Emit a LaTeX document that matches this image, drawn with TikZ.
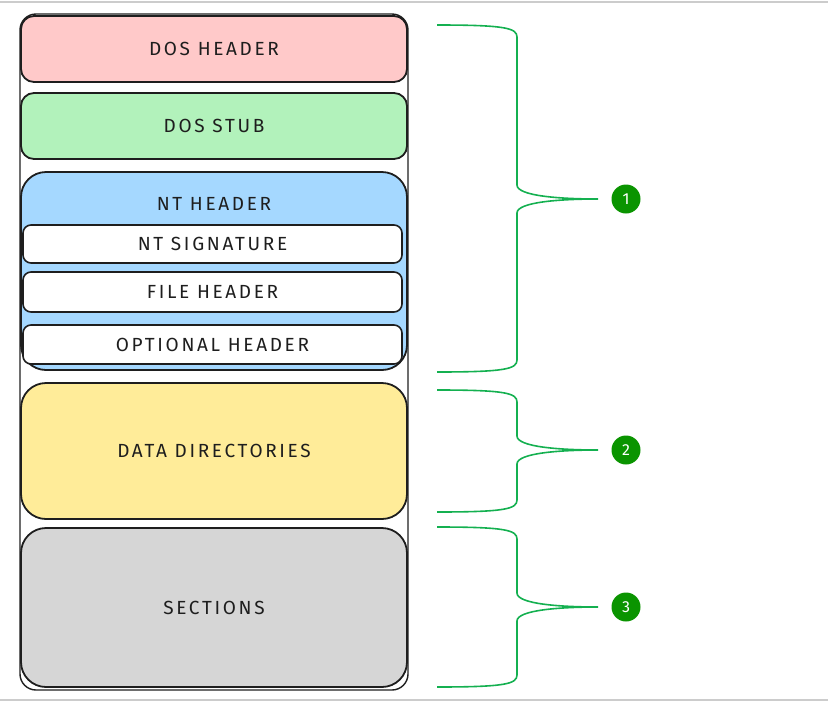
\documentclass[tikz,border=0pt]{standalone}
\usepackage{fontspec}
\setmainfont{Fira Sans}[LetterSpace=14]
\newfontfamily\digitfont{Fira Sans}
\usepackage{xcolor}
\usetikzlibrary{positioning,calc}

\definecolor{dosred}{HTML}{FFC9C9}
\definecolor{stubgreen}{HTML}{B2F2BB}
\definecolor{ntblue}{HTML}{A5D8FF}
\definecolor{diryellow}{HTML}{FFEC99}
\definecolor{secgray}{HTML}{D6D6D6}
\definecolor{inkblack}{HTML}{1E1E1E}
\definecolor{bracegreen}{HTML}{14B050}
\definecolor{badgegreen}{HTML}{0A9400}
\definecolor{framegray}{HTML}{CCCCCC}

\tikzset{
    part/.style={draw=inkblack, line width=1.8pt, rounded corners=13pt, minimum width=386pt, outer sep=0pt, text=inkblack, font=\fontsize{19}{22}\selectfont},
    subpart/.style={draw=inkblack, line width=1.6pt, fill=white, rounded corners=8pt, minimum width=379pt, outer sep=0pt, text=inkblack, font=\fontsize{19}{22}\selectfont},
    brace/.style={draw=bracegreen, line width=1.6pt},
    badge/.style={circle, fill=badgegreen, minimum size=29pt, inner sep=0pt, text=white, font=\digitfont\fontsize{16}{18}\selectfont}
}

\begin{document}
\begin{tikzpicture}[x=1pt, y=-1pt]
        \useasboundingbox (0,0) rectangle (828,702);
        \draw[framegray, line width=1.5pt] (0,2) -- (828,2);
        \draw[framegray, line width=1.5pt] (0,700) -- (828,700);

        % outer file box
        \node[draw=inkblack, line width=1.4pt, rounded corners=16pt, minimum width=388pt, minimum height=676pt, outer sep=0pt] (file) at (214,352) {};

        \node[part, fill=dosred, minimum height=66pt] (dosh) at (214,49) {DOS HEADER};
        \node[part, fill=stubgreen, minimum height=66pt, below=11pt of dosh] (stub) {DOS STUB};
        \node[part, fill=ntblue, minimum height=198pt, rounded corners=25pt, below=13pt of stub] (nt) {};
        \node[text=inkblack, font=\fontsize{19}{22}\selectfont] (ntlabel) at (214,204) {NT HEADER};
        \node[subpart, minimum height=38pt] (sig) at (212.5,244) {NT SIGNATURE};
        \node[subpart, minimum height=40pt, below=9pt of sig] (fileh) {FILE HEADER};
        \node[subpart, minimum height=39pt, below=13pt of fileh] (opt) {OPTIONAL HEADER};
        \node[part, fill=diryellow, minimum height=136pt, rounded corners=25pt, below=13pt of nt] (dirs) {DATA DIRECTORIES};
        \node[part, fill=secgray, minimum height=159pt, rounded corners=25pt, below=9pt of dirs] (secs) {SECTIONS};

        % braces and numbers
        \foreach \top/\mid/\bot/\n in {25/199/372/1, 390/450/512/2, 527/607/687/3} {
            \node[badge] (b\n) at (626,\mid) {\n};
            \coordinate (u\n) at (437,\top);
            \coordinate (d\n) at (437,\bot);
            \coordinate (tip\n) at (598,\mid);
            \draw[brace] (u\n) .. controls (505,\top) and (517,\top+3) .. (517,\top+12)
                -- (517,\mid-14) .. controls (517,\mid-3) and (560,\mid) .. (tip\n)
                .. controls (560,\mid) and (517,\mid+3) .. (517,\mid+14)
                -- (517,\bot-12) .. controls (517,\bot-3) and (505,\bot) .. (d\n);
        }
    \end{tikzpicture}
\end{document}
